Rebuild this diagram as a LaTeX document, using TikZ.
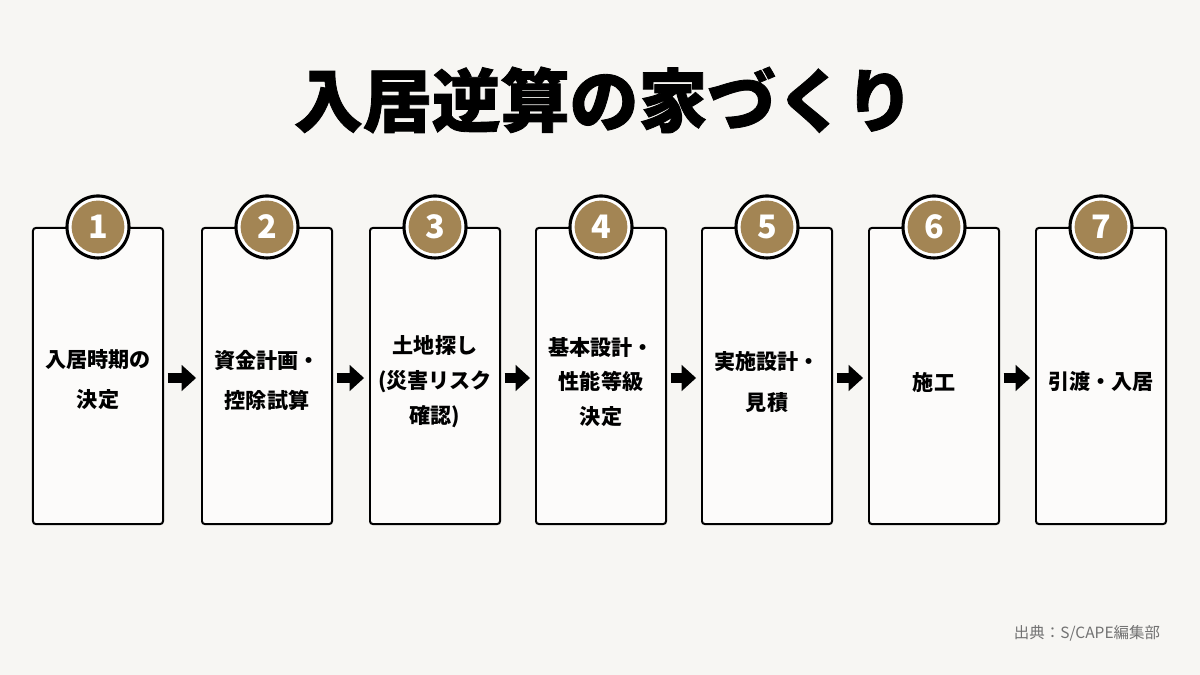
\documentclass[tikz,border=0pt]{standalone}
\usepackage{fontspec}
\usepackage{tikz}
\usetikzlibrary{arrows.meta}
\newfontfamily\jpfont{Noto Sans CJK JP}
\newfontfamily\jptitle{Noto Sans CJK JP}[BoldFeatures={FakeBold=1.2}]
\definecolor{bgpaper}{HTML}{F7F6F3}
\definecolor{badgebrown}{HTML}{A38554}
\definecolor{srcgray}{HTML}{727272}

\tikzset{
	stepbox/.style={draw, line width=1.4pt, rounded corners=2pt, fill=white!60!bgpaper,
		minimum width=3.25cm, minimum height=7.4cm},
	steptext/.style={align=center, font=\jpfont\bfseries\fontsize{15}{28.5}\selectfont},
	badge/.style={circle, draw, line width=2.2pt, fill=white, minimum size=1.55cm,
		inner sep=0pt, path picture={\fill[badgebrown] (path picture bounding box.center) circle (0.66cm);},
		text=white, font=\jpfont\bfseries\fontsize{23}{23}\selectfont},
	fatarrow/.style={line width=0.25cm, -{Triangle[length=0.36cm,width=0.63cm]},
		shorten <=2.5pt, shorten >=3.5pt}
}

\begin{document}
\begin{tikzpicture}[x=0.025cm,y=-0.025cm]
	
	\fill[bgpaper] (0,0) rectangle (1200,675);
	\useasboundingbox (0,0) rectangle (1200,675);
	
	\node[font=\jptitle\bfseries\fontsize{49}{49}\selectfont] (title) at (604,100) {入居逆算の家づくり};
	
	\node[stepbox] (s1) at (98,376) {};
	\node[stepbox] (s2) at (267,376) {};
	\node[stepbox] (s3) at (435,376) {};
	\node[stepbox] (s4) at (601,376) {};
	\node[stepbox] (s5) at (767,376) {};
	\node[stepbox] (s6) at (934,376) {};
	\node[stepbox] (s7) at (1101,376) {};
	
	\node[steptext] (t1) at ([yshift=-0.1cm]s1.center) {入居時期の\\決定};
	\node[steptext] (t2) at ([yshift=-0.1cm]s2.center) {資金計画・\\控除試算};
	\node[steptext, font=\jpfont\bfseries\fontsize{15}{24.8}\selectfont] (t3) at ([yshift=-0.15cm]s3.center) {土地探し\\(災害リスク\\確認)};
	\node[steptext, font=\jpfont\bfseries\fontsize{15}{24.8}\selectfont] (t4) at ([yshift=-0.15cm]s4.center) {基本設計・\\性能等級\\決定};
	\node[steptext] (t5) at ([yshift=-0.15cm]s5.center) {実施設計・\\見積};
	\node[steptext] (t6) at ([yshift=-0.15cm]s6.center) {施工};
	\node[steptext] (t7) at ([yshift=-0.15cm]s7.center) {引渡・入居};
	
	\node[badge] (n1) at (s1.north) {1};
	\node[badge] (n2) at (s2.north) {2};
	\node[badge] (n3) at (s3.north) {3};
	\node[badge] (n4) at (s4.north) {4};
	\node[badge] (n5) at (s5.north) {5};
	\node[badge] (n6) at (s6.north) {6};
	\node[badge] (n7) at (s7.north) {7};
	
	\draw[fatarrow] ([yshift=-0.05cm]s1.east) -- ([yshift=-0.05cm]s2.west);
	\draw[fatarrow] ([yshift=-0.05cm]s2.east) -- ([yshift=-0.05cm]s3.west);
	\draw[fatarrow] ([yshift=-0.05cm]s3.east) -- ([yshift=-0.05cm]s4.west);
	\draw[fatarrow] ([yshift=-0.05cm]s4.east) -- ([yshift=-0.05cm]s5.west);
	\draw[fatarrow] ([yshift=-0.05cm]s5.east) -- ([yshift=-0.05cm]s6.west);
	\draw[fatarrow] ([yshift=-0.05cm]s6.east) -- ([yshift=-0.05cm]s7.west);
	
	\node[anchor=east, text=srcgray, font=\jpfont\fontsize{11}{12}\selectfont] (source) at (1165,633) {出典：S/CAPE編集部};
	
\end{tikzpicture}
\end{document}
